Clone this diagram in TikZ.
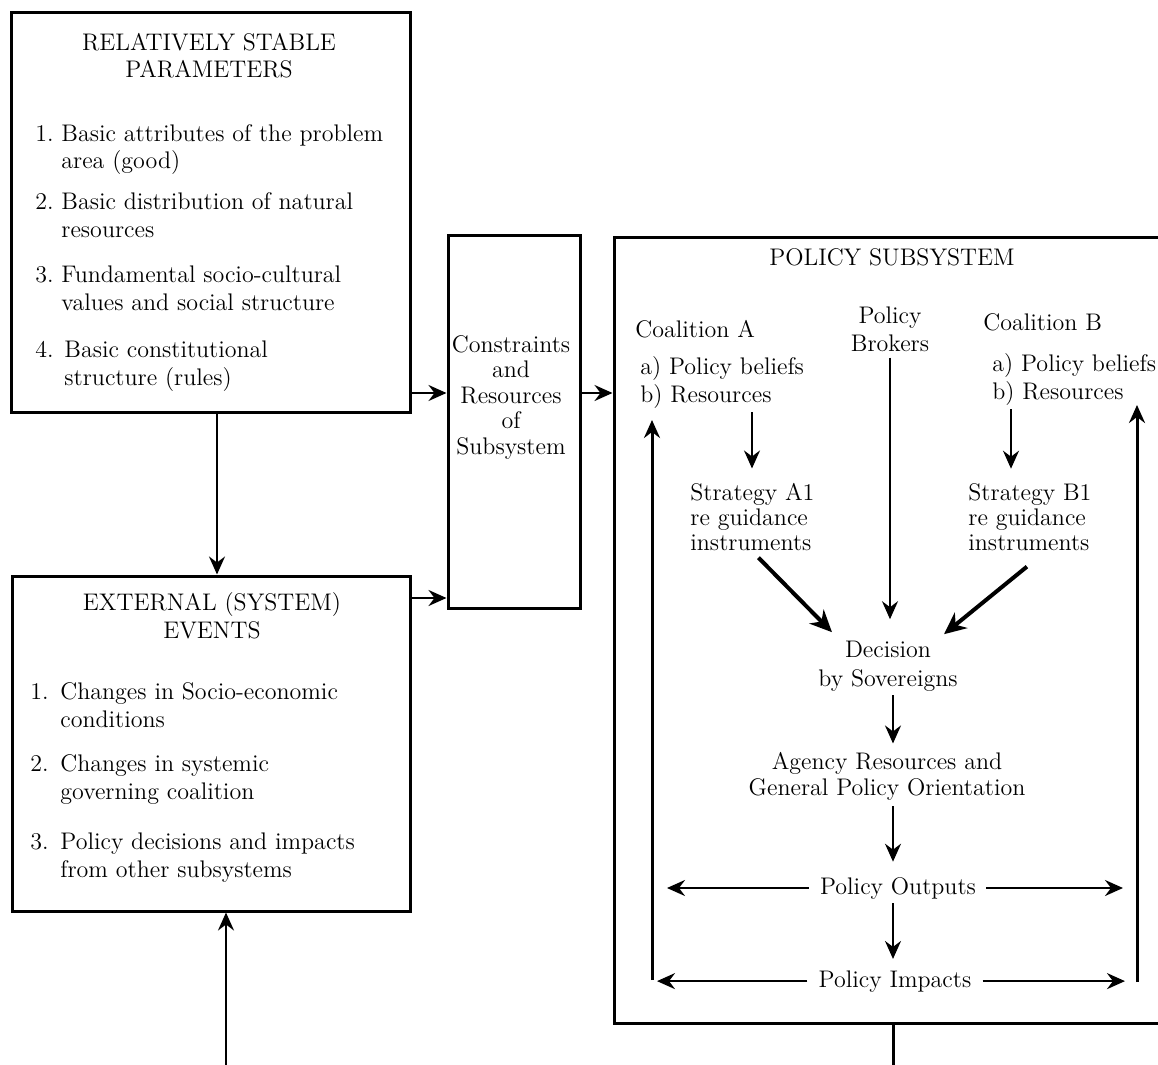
\documentclass[tikz,border=0pt]{standalone}
\usetikzlibrary{arrows.meta,fit}
\begin{document}
\begin{tikzpicture}[x=0.5pt,y=-0.5pt,
  txt/.style={inner sep=0pt, font=\fontsize{12}{13.75}\selectfont},
  frame/.style={draw, line width=1.5pt, inner sep=0pt},
  arr/.style={line width=1.2pt, -{Stealth[length=9pt,width=8pt,inset=3pt]}},
  barr/.style={line width=2pt, -{Stealth[length=11pt,width=10pt,inset=3.5pt]}},
  ln/.style={line width=1.5pt}]

\useasboundingbox (0,0) rectangle (1158,1065);
\fill[white] (0,0) rectangle (1158,1065);
\clip (0,0) rectangle (1158,1065);

% ---------- outer frames ----------
\coordinate (s1) at (11,13);   \coordinate (s2) at (410,412);
\coordinate (e1) at (12,576);  \coordinate (e2) at (410,911);
\coordinate (c1) at (448,236); \coordinate (c2) at (580,608);
\coordinate (p1) at (614,238); \coordinate (p2) at (1166,1023);
\node[frame, fit=(s1)(s2)] (stable) {};
\node[frame, fit=(e1)(e2)] (events) {};
\node[frame, fit=(c1)(c2)] (cons) {};
\node[frame, fit=(p1)(p2)] (policy) {};

% multi-line nodes are placed by the baseline of their last line
% ---------- relatively stable parameters ----------
\node[txt, anchor=base, align=center] (stitle) at (209,78) {RELATIVELY STABLE\\PARAMETERS};
\node[txt, anchor=base west, align=left] (si1) at (35,169)
  {\makebox[13pt][l]{1.}Basic attributes of the problem\\\hspace*{13pt}area (good)};
\node[txt, anchor=base west, align=left] (si2) at (35,237)
  {\makebox[13pt][l]{2.}Basic distribution of natural\\\hspace*{13pt}resources};
\node[txt, anchor=base west, align=left] (si3) at (35,310)
  {\makebox[13pt][l]{3.}Fundamental socio-cultural\\\hspace*{13pt}values and social structure};
\node[txt, anchor=base west, align=left] (si4) at (35,385)
  {\makebox[14.5pt][l]{4.}Basic constitutional\\\hspace*{14.5pt}structure (rules)};

% ---------- external events ----------
\node[txt, anchor=base, align=center] (etitle) at (212,638) {EXTERNAL (SYSTEM)\\EVENTS};
\node[txt, anchor=base west, align=left] (ei1) at (30,727)
  {\makebox[15pt][l]{1.}Changes in Socio-economic\\\hspace*{15pt}conditions};
\node[txt, anchor=base west, align=left] (ei2) at (30,799)
  {\makebox[15pt][l]{2.}Changes in systemic\\\hspace*{15pt}governing coalition};
\node[txt, anchor=base west, align=left] (ei3) at (30,877)
  {\makebox[15pt][l]{3.}Policy decisions and impacts\\\hspace*{15pt}from other subsystems};

% ---------- constraints ----------
\node[txt, anchor=base, align=center, font=\fontsize{12}{12.75}\selectfont] (ctext) at (511,454)
  {Constraints\\and\\Resources\\of\\Subsystem};

% ---------- policy subsystem ----------
\node[txt, anchor=base] (ptitle) at (892,265) {POLICY SUBSYSTEM};
\node[txt, anchor=base west, align=left] (coalA) at (635,402)
  {Coalition A\\[5pt]\hspace*{2.5pt}a) Policy beliefs\\\hspace*{2.5pt}b) Resources};
\node[txt, anchor=base west, align=left] (coalB) at (983,399)
  {Coalition B\\[7pt]\hspace*{4.5pt}a) Policy beliefs\\\hspace*{4.5pt}b) Resources};
\node[txt, anchor=base, align=center] (brokers) at (890,351) {Policy\\Brokers};
\node[txt, anchor=base west, align=left, font=\fontsize{12}{12.5}\selectfont] (stratA) at (690,550)
  {Strategy A1\\re guidance\\instruments};
\node[txt, anchor=base west, align=left, font=\fontsize{12}{12.5}\selectfont] (stratB) at (968,550)
  {Strategy B1\\re guidance\\instruments};
\node[txt, anchor=base, align=center, font=\fontsize{12}{14.5}\selectfont] (decision) at (888,686)
  {Decision\\by Sovereigns};
\node[txt, anchor=base, align=center, font=\fontsize{12}{13}\selectfont] (agency) at (887,795)
  {Agency Resources and\\General Policy Orientation};
\node[txt, anchor=base] (outputs) at (898,894) {Policy Outputs};
\node[txt, anchor=base] (impacts) at (895,987) {Policy Impacts};

% ---------- connectors between the outer frames ----------
\coordinate (yTop) at (0,393);
\coordinate (yLow) at (0,598);
\draw[arr] ([xshift=3.25pt]stable.south) -- ([xshift=3.25pt]stable.south |- events.north);
\draw[arr] (stable.east |- yTop) -- (cons.west |- yTop);
\draw[arr] (events.east |- yLow) -- (cons.west |- yLow);
\draw[arr] (cons.east |- yTop) -- (policy.west |- yTop);
\coordinate (inlet) at (226,1065);
\draw[arr] (inlet) -- (inlet |- events.south);
\coordinate (outlet) at (893,1065);
\draw[ln] (outlet |- policy.south) -- (outlet);

% ---------- flow inside the subsystem ----------
\coordinate (ax) at (752,0);
\coordinate (bx) at (1011,0);
\coordinate (cx) at (893,0);
\draw[arr, shorten <=2pt, shorten >=7pt] (coalA.south -| ax) -- (stratA.north -| ax);
\draw[arr, shorten <=2pt, shorten >=7pt] (coalB.south -| bx) -- (stratB.north -| bx);
\draw[arr, shorten <=3pt, shorten >=10.5pt] (brokers.south) -- (brokers.south |- decision.north);
\draw[barr] ([shift={(3pt,-3.5pt)}]stratA.south) -- ([shift={(7pt,4pt)}]decision.north west);
\draw[barr] ([shift={(-1.5pt,-8pt)}]stratB.south) -- ([shift={(-7pt,3pt)}]decision.north east);
\draw[arr, shorten <=2pt, shorten >=4pt] (decision.south -| cx) -- (agency.north -| cx);
\draw[arr, shorten <=3pt, shorten >=7.5pt] (agency.south -| cx) -- (outputs.north -| cx);
\draw[arr, shorten <=2pt, shorten >=5.5pt] (outputs.south -| cx) -- (impacts.north -| cx);

% outputs and impacts spreading sideways
\coordinate (lo) at (667,0);  \coordinate (ro) at (1123,0);
\coordinate (li) at (657,0);  \coordinate (ri) at (1125,0);
\draw[arr, shorten <=5.5pt] (outputs.west) -- (outputs.west -| lo);
\draw[arr, shorten <=5pt]   (outputs.east) -- (outputs.east -| ro);
\draw[arr, shorten <=5.5pt] (impacts.west) -- (impacts.west -| li);
\draw[arr, shorten <=5.5pt] (impacts.east) -- (impacts.east -| ri);

% feedback lines back to the coalitions
\coordinate (lvb) at (652,980);  \coordinate (lvt) at (652,420);
\coordinate (rvb) at (1137,982); \coordinate (rvt) at (1137,405);
\draw[arr, line width=1.5pt] (lvb) -- (lvt);
\draw[arr, line width=1.5pt] (rvb) -- (rvt);

\end{tikzpicture}
\end{document}
